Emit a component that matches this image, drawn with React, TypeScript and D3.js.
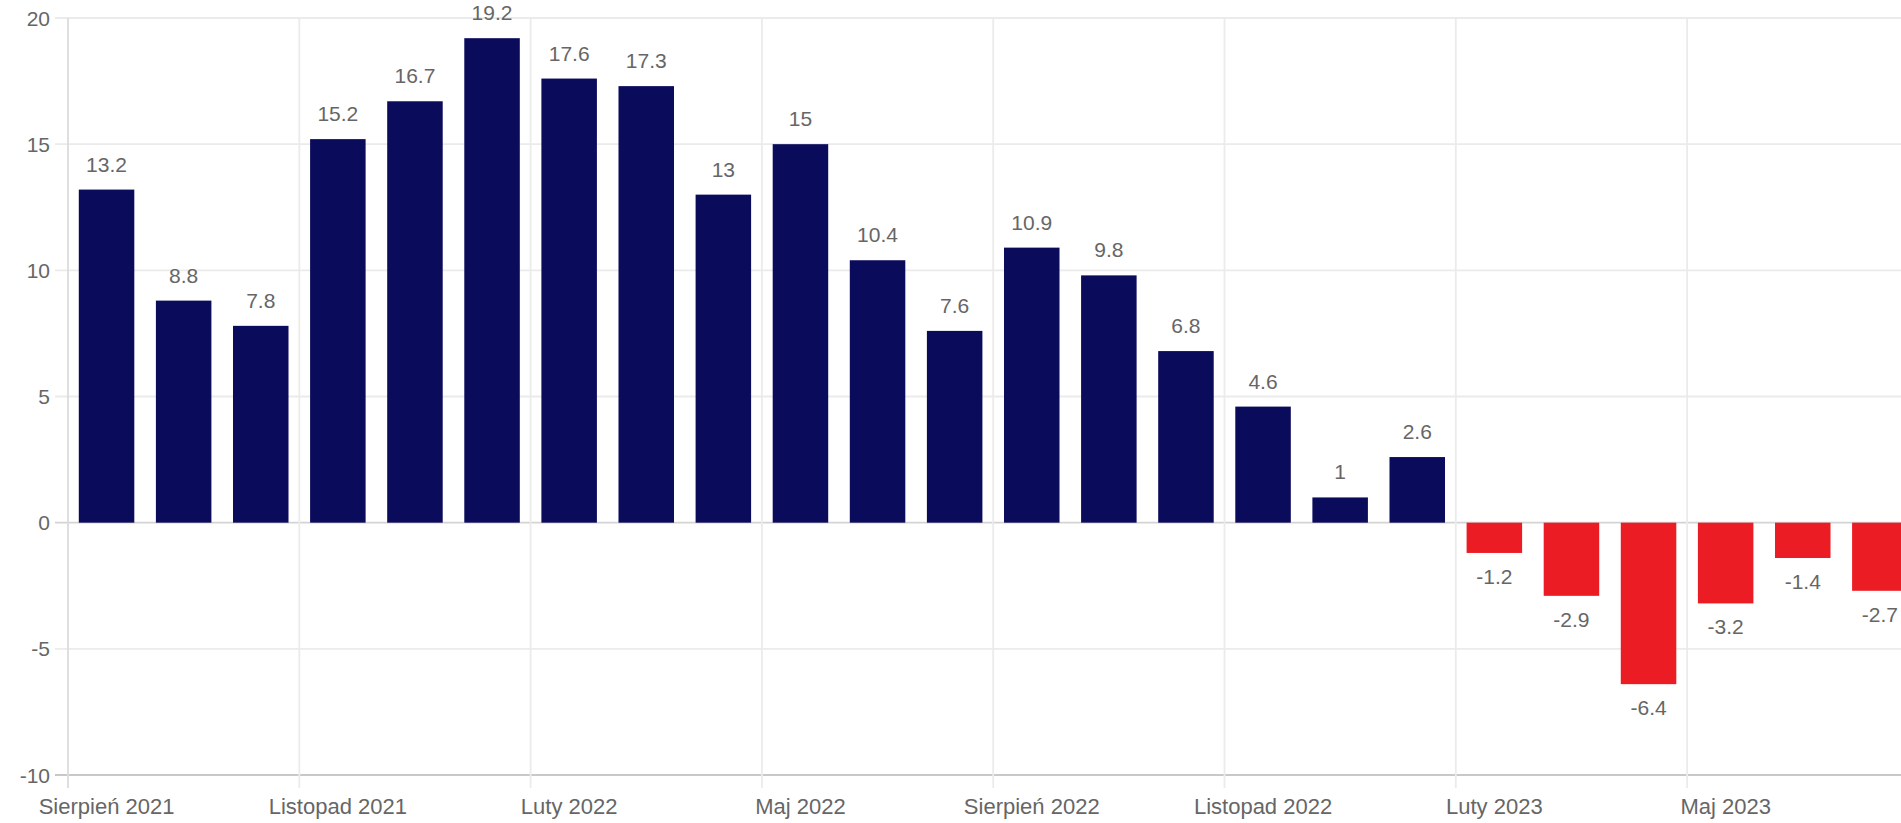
import React from "react";
import * as d3 from "d3";

const categories: string[] = [
  "Sierpień 2021", "Wrzesień 2021", "Październik 2021", "Listopad 2021", "Grudzień 2021",
  "Styczeń 2022", "Luty 2022", "Marzec 2022", "Kwiecień 2022", "Maj 2022", "Czerwiec 2022",
  "Lipiec 2022", "Sierpień 2022", "Wrzesień 2022", "Październik 2022", "Listopad 2022",
  "Grudzień 2022", "Styczeń 2023", "Luty 2023", "Marzec 2023", "Kwiecień 2023", "Maj 2023",
  "Czerwiec 2023", "Lipiec 2023",
];

const values: number[] = [
  13.2, 8.8, 7.8, 15.2, 16.7, 19.2, 17.6, 17.3, 13, 15, 10.4, 7.6,
  10.9, 9.8, 6.8, 4.6, 1, 2.6, -1.2, -2.9, -6.4, -3.2, -1.4, -2.7,
];

const yTicks: number[] = [20, 15, 10, 5, 0, -5, -10];
const xTickEvery = 3;

const W = 1901;
const H = 823;
const LEFT = 68;
const STEP = 77.1;
const TOP = 18;
const BOTTOM = 775;

const POS_COLOR = "#0b0b5c";
const NEG_COLOR = "#ec1c24";
const TEXT_COLOR = "#666666";
const FONT = "'Liberation Sans', Arial, Helvetica, sans-serif";

export default function App() {
  const x = d3
    .scaleBand<string>()
    .domain(categories)
    .range([LEFT, LEFT + STEP * categories.length])
    .paddingInner(0.28)
    .paddingOuter(0.14);
  const y = d3.scaleLinear().domain([-10, 20]).range([BOTTOM, TOP]);
  const step = x.step();
  const bw = x.bandwidth();
  const pad = step * 0.14;

  const gridCats = categories.filter((_, i) => i % xTickEvery === 0);

  return (
    <svg
      width={W}
      height={H}
      style={{ position: "absolute", left: 0, top: 0, background: "#fff" }}
      fontFamily={FONT}
    >
      {/* horizontal grid */}
      {yTicks.map((t) => (
        <line
          key={"h" + t}
          x1={LEFT - 13}
          x2={W}
          y1={y(t)}
          y2={y(t)}
          stroke={t === -10 ? "#c8c8c8" : t === 0 ? "#d4d4d4" : "#ebebeb"}
          strokeWidth={1.8}
        />
      ))}
      {/* vertical grid */}
      {gridCats.map((c) => {
        const gx = (x(c) as number) - pad;
        return (
          <line
            key={"v" + c}
            x1={gx}
            x2={gx}
            y1={TOP}
            y2={BOTTOM + 13}
            stroke={gx <= LEFT + 1 ? "#dcdcdc" : "#ebebeb"}
            strokeWidth={1.8}
          />
        );
      })}
      {/* y tick labels */}
      {yTicks.map((t) => (
        <text
          key={"yt" + t}
          x={50}
          y={y(t)}
          dy="0.36em"
          textAnchor="end"
          fontSize={21}
          fill={TEXT_COLOR}
        >
          {t}
        </text>
      ))}
      {/* bars */}
      {values.map((v, i) => {
        const c = categories[i];
        const bx = x(c) as number;
        const y0 = y(0);
        const yv = y(v);
        return (
          <rect
            key={"b" + i}
            x={bx}
            y={Math.min(y0, yv)}
            width={bw}
            height={Math.abs(yv - y0)}
            fill={v >= 0 ? POS_COLOR : NEG_COLOR}
          />
        );
      })}
      {/* data labels */}
      {values.map((v, i) => {
        const c = categories[i];
        const cx = (x(c) as number) + bw / 2;
        const yv = y(v);
        return (
          <text
            key={"l" + i}
            x={cx}
            y={v >= 0 ? yv - 18 : yv + 31}
            textAnchor="middle"
            fontSize={21}
            fill={TEXT_COLOR}
          >
            {String(v)}
          </text>
        );
      })}
      {/* x tick labels */}
      {gridCats.map((c) => (
        <text
          key={"xt" + c}
          x={(x(c) as number) + bw / 2}
          y={814}
          textAnchor="middle"
          fontSize={22}
          fill={TEXT_COLOR}
        >
          {c}
        </text>
      ))}
    </svg>
  );
}
